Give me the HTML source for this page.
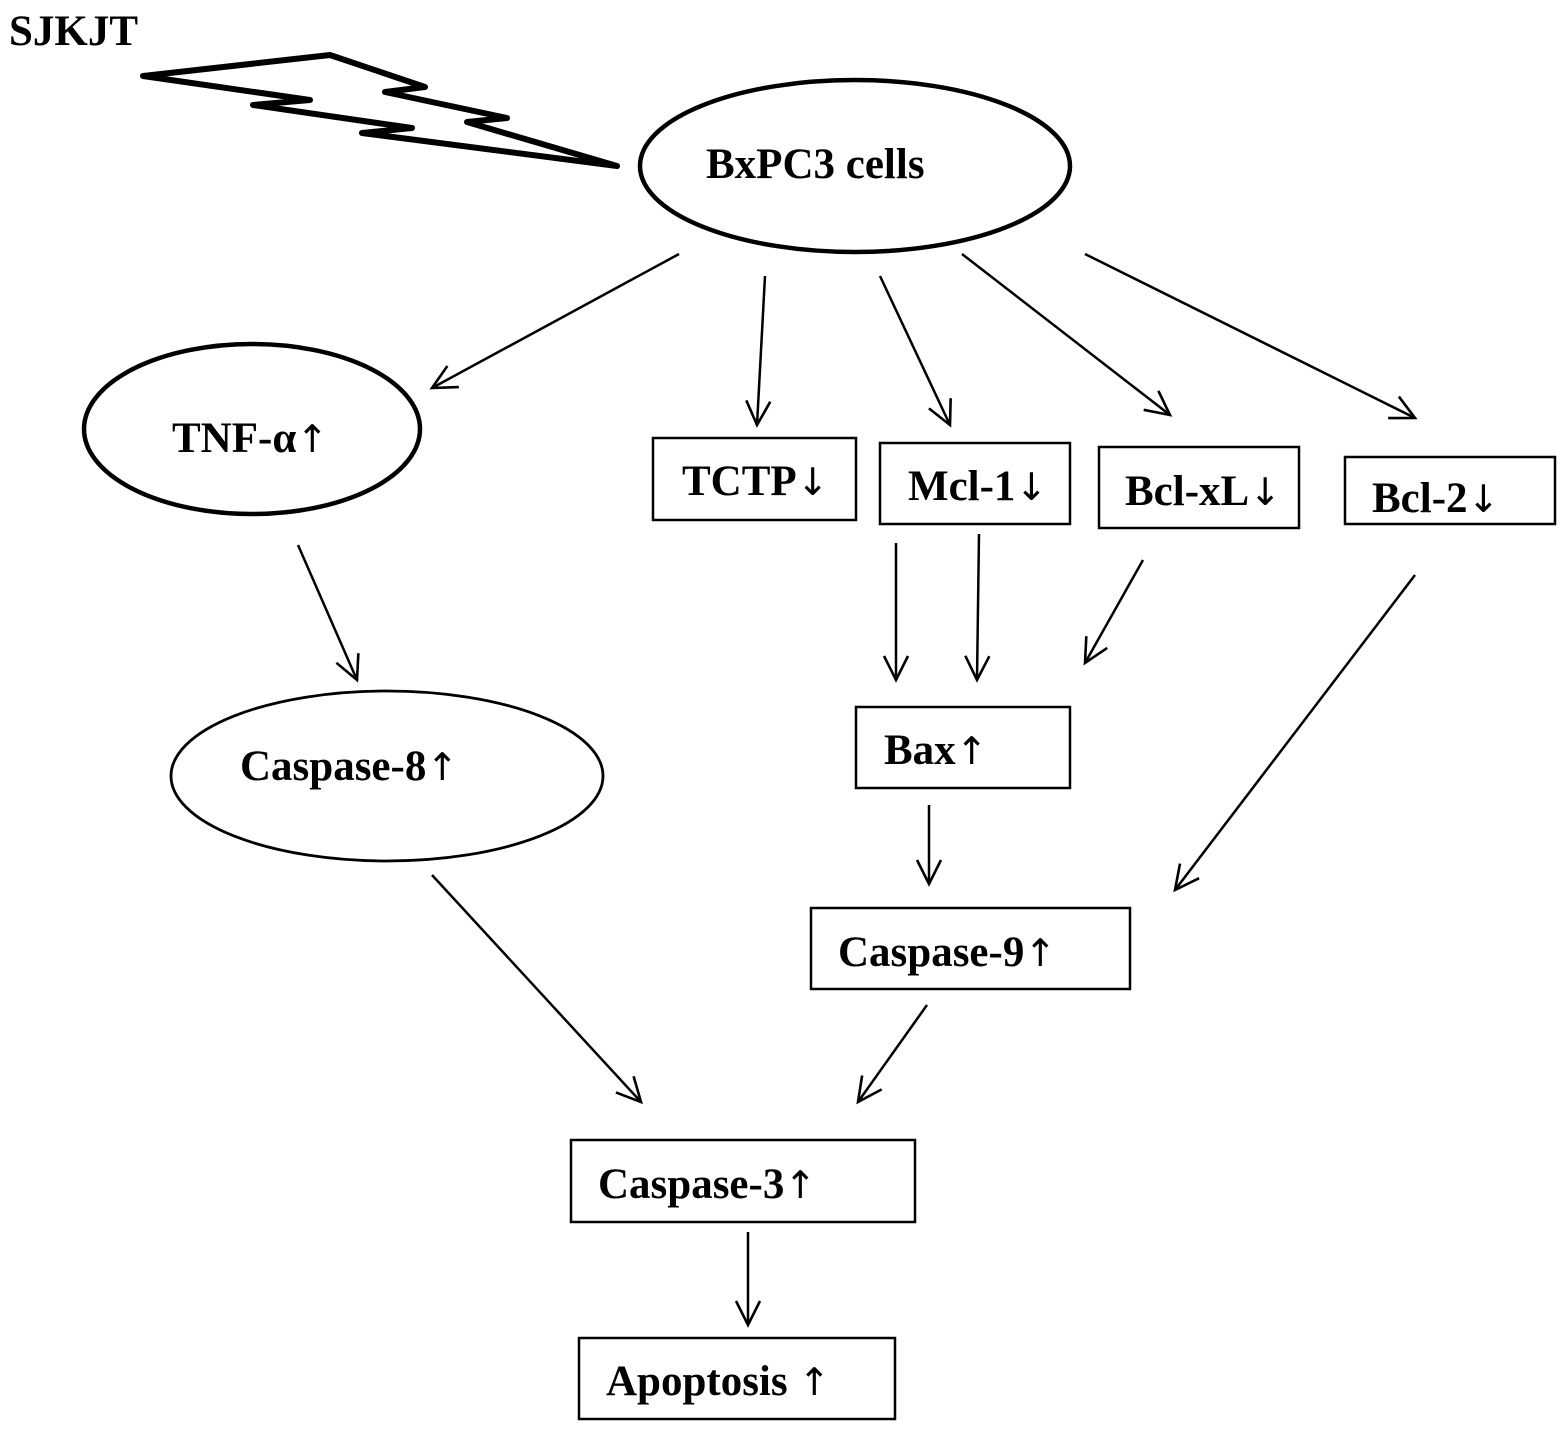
<!DOCTYPE html>
<html><head><meta charset="utf-8"><style>html,body{margin:0;padding:0;background:#fff}svg{display:block}.r{font-family:"DejaVu Sans",sans-serif;font-weight:normal}</style></head>
<body>
<svg width="1565" height="1435" viewBox="0 0 1565 1435" xmlns="http://www.w3.org/2000/svg">
<defs>
<marker id="a" markerUnits="userSpaceOnUse" markerWidth="40" markerHeight="40" refX="30" refY="20" orient="auto">
<path d="M6,8 L30,20 L6,32" fill="none" stroke="#000" stroke-width="2.6"/>
</marker>
</defs>
<g font-family="'Liberation Serif',serif" font-weight="bold" fill="#000">
<text x="9" y="45" font-size="43">SJKJT</text>
</g>
<polygon points="143,76 330,55 425,87 385,92 507,118 467,122 617,166 362,133 412,128 253,105 310,100" fill="none" stroke="#000" stroke-width="6" stroke-linejoin="round"/>
<g fill="none" stroke="#000">
<ellipse cx="855" cy="166" rx="215" ry="86" stroke-width="4.5"/>
<ellipse cx="252" cy="429" rx="168" ry="85" stroke-width="4.5"/>
<ellipse cx="387" cy="776" rx="216" ry="85" stroke-width="2.8"/>
<g stroke-width="2.5">
<rect x="653" y="438" width="203" height="82"/>
<rect x="880" y="443" width="190" height="81"/>
<rect x="1099" y="447" width="200" height="81"/>
<rect x="1345" y="457" width="210" height="67"/>
<rect x="856" y="707" width="214" height="81"/>
<rect x="811" y="908" width="319" height="81"/>
<rect x="571" y="1140" width="344" height="82"/>
<rect x="579" y="1338" width="316" height="81"/>
</g>
<g stroke-width="2.5" marker-end="url(#a)">
<line x1="679" y1="254" x2="432" y2="388"/>
<line x1="765" y1="276" x2="757" y2="425"/>
<line x1="880" y1="276" x2="950" y2="425"/>
<line x1="962" y1="254" x2="1170" y2="415"/>
<line x1="1085" y1="254" x2="1415" y2="418"/>
<line x1="298" y1="545" x2="357" y2="680"/>
<line x1="896" y1="543" x2="896" y2="680"/>
<line x1="979" y1="534" x2="977" y2="680"/>
<line x1="1143" y1="560" x2="1085" y2="663"/>
<line x1="1415" y1="575" x2="1175" y2="890"/>
<line x1="929" y1="805" x2="929" y2="884"/>
<line x1="432" y1="875" x2="641" y2="1102"/>
<line x1="927" y1="1005" x2="858" y2="1102"/>
<line x1="748" y1="1232" x2="748" y2="1325"/>
</g>
</g>
<g font-family="'Liberation Serif','DejaVu Serif',serif" font-weight="bold" font-size="43" fill="#000">
<text x="706" y="178">BxPC3 cells</text>
<text x="172" y="452">TNF-α<tspan class="r" font-size="38">↑</tspan></text>
<text x="240" y="780">Caspase-8<tspan class="r" font-size="38">↑</tspan></text>
<text x="682" y="495">TCTP<tspan class="r" font-size="38">↓</tspan></text>
<text x="908" y="500">Mcl-1<tspan class="r" font-size="38">↓</tspan></text>
<text x="1125" y="505">Bcl-xL<tspan class="r" font-size="38">↓</tspan></text>
<text x="1372" y="512">Bcl-2<tspan class="r" font-size="38">↓</tspan></text>
<text x="884" y="764">Bax<tspan class="r" font-size="38">↑</tspan></text>
<text x="838" y="966">Caspase-9<tspan class="r" font-size="38">↑</tspan></text>
<text x="598" y="1198">Caspase-3<tspan class="r" font-size="38">↑</tspan></text>
<text x="606" y="1395">Apoptosis <tspan class="r" font-size="38">↑</tspan></text>
</g>
</svg>
</body></html>
